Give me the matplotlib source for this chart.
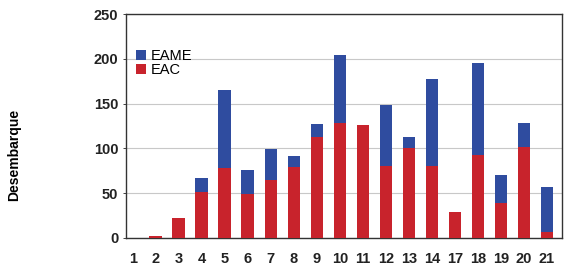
import numpy as np
import matplotlib
matplotlib.use('Agg')
import matplotlib.pyplot as plt

# categories and stacked values
labels = ['1', '2', '3', '4', '5', '6', '7', '8', '9', '10', '11',
          '12', '13', '14', '17', '18', '19', '20', '21']
eac = [0, 2, 22, 51, 78, 49, 65, 79, 113, 128, 126, 80, 101, 80, 29, 93, 39, 102, 7]
eame = [0, 0, 0, 16, 87, 27, 34, 12, 14, 76, 0, 69, 12, 98, 0, 102, 31, 26, 50]

BLUE = '#2f4c9f'
RED = '#c8232c'

plt.rcParams['font.family'] = ['Liberation Sans', 'DejaVu Sans']

fig = plt.figure(figsize=(5.67, 2.71), dpi=100)
ax = fig.add_axes([0.222, 0.122, 0.769, 0.826])

x = np.arange(len(labels))
ax.bar(x, eac, width=0.55, color=RED, label='EAC', zorder=3)
ax.bar(x, eame, width=0.55, bottom=eac, color=BLUE, label='EAME', zorder=3)

ax.set_xlim(-0.3, 18.65)
ax.set_ylim(0, 250)
ax.set_yticks([0, 50, 100, 150, 200, 250])
ax.set_xticks(x)
ax.set_xticklabels(labels)
ax.tick_params(axis='both', labelsize=10.5, length=2, width=0.6, colors='#222222')
ax.tick_params(axis='x', length=0, pad=10)
for t in ax.get_xticklabels() + ax.get_yticklabels():
    t.set_fontweight('bold')
    t.set_color('#222222')

ax.yaxis.grid(True, color='#c8c8c8', linewidth=0.8, zorder=0)
for s in ax.spines.values():
    s.set_color('#333333')
    s.set_linewidth(1.0)

ax.set_ylabel('Desembarque', fontsize=10, fontweight='bold')
ax.yaxis.set_label_coords(-0.24, 0.37)

h, l = ax.get_legend_handles_labels()
ax.legend(h[::-1], l[::-1], loc='upper left', bbox_to_anchor=(0.0, 0.89),
          frameon=False, fontsize=10.5, handlelength=0.7, handleheight=0.7,
          handletextpad=0.3, labelspacing=0.0, borderaxespad=0.3)

fig.savefig('out.png', dpi=100)
